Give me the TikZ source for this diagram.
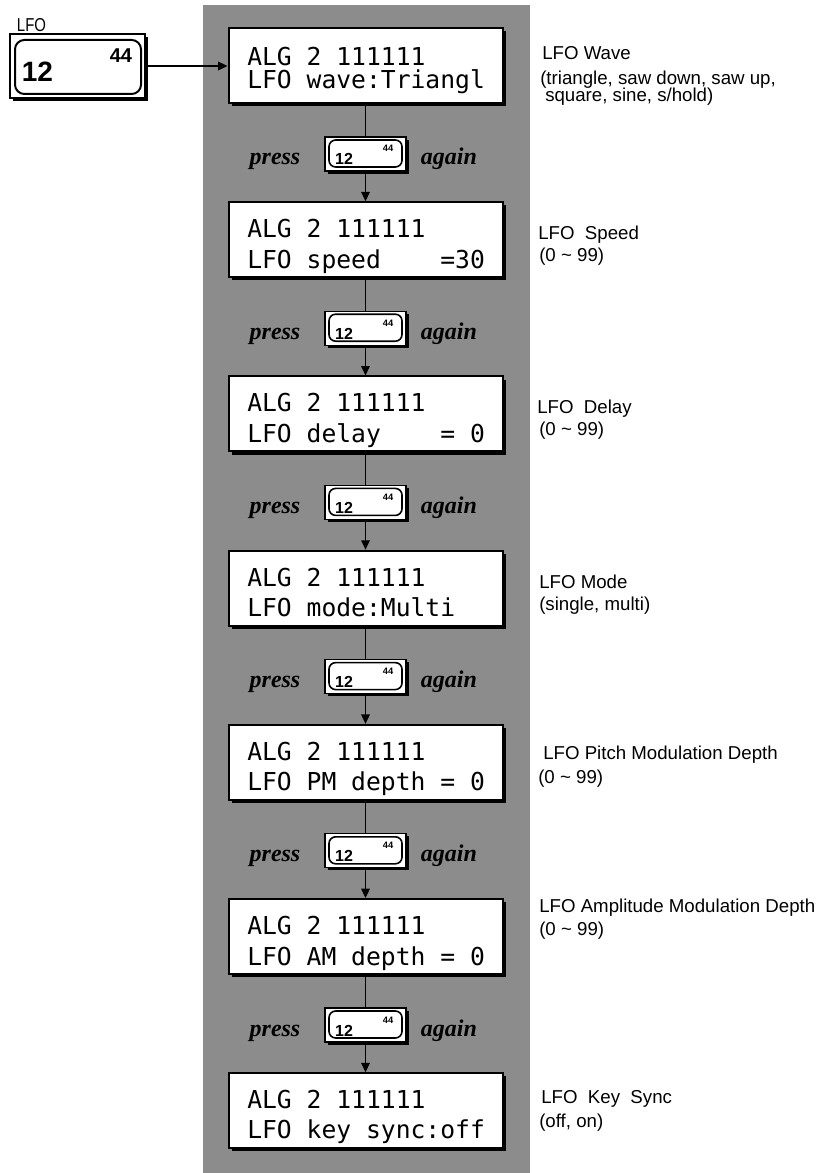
\documentclass[tikz,border=0pt]{standalone}
\usepackage{fontspec}
\usepackage{graphicx}
\setmainfont{Liberation Sans}
\newfontfamily\lcdfont{DejaVu Sans Mono}
\newfontfamily\pressfont{Liberation Serif}
\usetikzlibrary{arrows.meta,shadows}
\begin{document}
\begin{tikzpicture}[x=0.75pt,y=-0.75pt,
  shadearea/.style={fill=black!45},
  lcdbox/.style={draw, line width=1.5pt, fill=white, minimum width=205.5pt, minimum height=56.25pt, inner sep=0pt,
    drop shadow={shadow xshift=2.4pt, shadow yshift=-2.4pt, fill=black, opacity=1}},
  lcdtext/.style={anchor=base west, inner sep=0pt, font=\lcdfont\fontsize{18.5pt}{20pt}\selectfont},
  keyout/.style={draw, line width=1pt, fill=white, minimum width=60.75pt, minimum height=25.5pt, inner sep=0pt,
    drop shadow={shadow xshift=2pt, shadow yshift=-2pt, fill=black, opacity=1}},
  keyin/.style={draw, line width=1.2pt, rounded corners=5pt, minimum width=54.75pt, minimum height=20.25pt, inner sep=0pt},
  keynum/.style={anchor=base, inner sep=0pt, font=\bfseries\fontsize{12pt}{12pt}\selectfont},
  keysup/.style={anchor=base, inner sep=0pt, font=\bfseries\fontsize{7pt}{7pt}\selectfont},
  presslbl/.style={anchor=base, inner sep=0pt, font=\pressfont\bfseries\itshape\fontsize{18pt}{18pt}\selectfont},
  desc/.style={anchor=base west, inner sep=0pt, font=\fontsize{14pt}{16pt}\selectfont},
  conn/.style={line width=0.8pt},
  arr/.style={conn, -{Triangle[length=7pt,width=6.5pt]}},
]
\useasboundingbox (0,0) rectangle (827,1173);
\fill[shadearea] (203,5) rectangle (530,1173);

% LFO key
\node[anchor=base, inner sep=0pt, font=\fontsize{14pt}{14pt}\selectfont] (lfolbl) at (31.5,32) {\scalebox{0.8}[1]{LFO}};
\node[draw, line width=1pt, fill=white, minimum width=101.25pt, minimum height=48pt, inner sep=0pt,
  drop shadow={shadow xshift=2pt, shadow yshift=-2pt, fill=black, opacity=1}] (lfokey) at (77.5,66) {};
\node[draw, line width=1.5pt, rounded corners=7pt, minimum width=94.5pt, minimum height=40.5pt, inner sep=0pt] (lfokeyin) at (78,67) {};
\node[anchor=base, inner sep=0pt, font=\bfseries\fontsize{21pt}{21pt}\selectfont] (lfo12) at (37.5,82) {12};
\node[anchor=base, inner sep=0pt, font=\bfseries\fontsize{15pt}{15pt}\selectfont] (lfo44) at (121,63) {44};

% display boxes
\foreach \i/\rb/\ya/\yb in {
  0/{LFO wave:Triangl}/38/61,
  1/{LFO speed\hphantom{0000}=30}/35.5/66,
  2/{LFO delay\hphantom{0000}= 0}/35.5/66,
  3/{LFO mode:Multi}/35.5/66,
  4/{LFO PM depth = 0}/35.5/66,
  5/{LFO AM depth = 0}/35.5/66,
  6/{LFO key sync:off}/35.5/65}
{
  \pgfmathsetmacro\t{28+174.2*\i}
  \node[lcdbox] (b\i) at (365.5,\t+37.5) {};
  \node[lcdtext] (ra\i) at (247,\t+\ya) {ALG 2 111111};
  \node[lcdtext] (rb\i) at (247,\t+\yb) {\rb};
}

\draw[arr] (lfokey.east) -- (lfokey.east -| b0.west);

% keys between boxes
\foreach \i in {0,...,5} {
  \pgfmathsetmacro\t{28+174.2*\i}
  \pgfmathtruncatemacro\j{\i+1}
  \node[keyout] (k\i) at (365.5,\t+126) {};
  \node[keyin] (ki\i) at (365.5,\t+125.5) {};
  \node[keynum] (kn\i) at (344,\t+137) {12};
  \node[keysup] (ks\i) at (388,\t+124) {44};
  \node[presslbl] (p\i) at (275,\t+137) {press};
  \node[presslbl] (a\i) at (449,\t+137) {again};
  \draw[conn] (b\i.south) -- (k\i.north);
  \draw[arr] (k\i.south) -- (b\j.north);
}

% descriptions
\node[desc] (d0) at (542,60) {LFO Wave};
\node[desc] (d0a) at (540,85) {(triangle, saw down, saw up,};
\node[desc] (d0b) at (545,102) {square, sine, s/hold)};
\node[desc] (d1) at (538,239) {LFO\ \ Speed};
\node[desc] (d1a) at (539,262) {(0 \textasciitilde{} 99)};
\node[desc] (d2) at (537,413) {LFO\ \ Delay};
\node[desc] (d2a) at (539,435) {(0 \textasciitilde{} 99)};
\node[desc] (d3) at (539,588) {LFO Mode};
\node[desc] (d3a) at (539,610) {(single, multi)};
\node[desc] (d4) at (543,759) {LFO Pitch Modulation Depth};
\node[desc] (d4a) at (538,783) {(0 \textasciitilde{} 99)};
\node[desc] (d5) at (539,912) {LFO Amplitude Modulation Depth};
\node[desc] (d5a) at (539,935) {(0 \textasciitilde{} 99)};
\node[desc] (d6) at (541,1103) {LFO\ \ Key\ \ Sync};
\node[desc] (d6a) at (539,1127) {(off, on)};
\end{tikzpicture}
\end{document}
